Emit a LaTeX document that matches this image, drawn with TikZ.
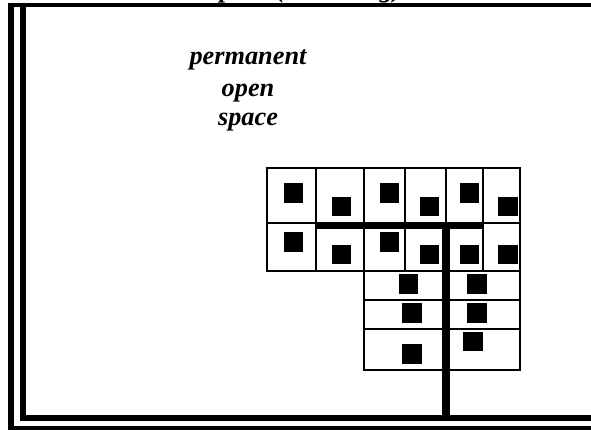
\documentclass[tikz,border=0pt]{standalone}
\usepackage{fontspec}
\setmainfont{Liberation Serif}
\begin{document}
\begin{tikzpicture}[x=1pt,y=-1pt,
  gridline/.style={line width=2pt,black},
  border/.style={line width=6pt,black},
  road/.style={black},
  lot/.style={fill=black},
  label/.style={font=\fontsize{26.3}{31}\selectfont\bfseries\itshape,inner sep=0pt}]
\useasboundingbox (0,0) rectangle (591,430);
\clip (0,0) rectangle (591,430);
% title (mostly outside the picture, as in the reference)
\node[label,anchor=base east] (title) at (402,-2) {space (clustering)};
% borders
\draw[line width=4pt] (8,5.5) -- (600,5.5);
\draw[border] (11,3.5) -- (11,435);
\draw[border] (23,7) -- (23,418) -- (600,418);
\draw[border] (8,429) -- (600,429);
% upper block of lots
\draw[gridline] (267.3,168) rectangle (520,270.7);
\foreach \x in {316,364.3,404.7,483.3} \draw[gridline] (\x,168) -- (\x,270.7);
\draw[gridline] (445.7,168) -- (445.7,223);
\draw[gridline] (267.3,222.7) -- (520,222.7);
% lower block of lots
\draw[gridline] (363.7,270.7) rectangle (520,370);
\draw[gridline] (363.7,299.5) -- (520,299.5);
\draw[gridline] (363.7,329) -- (520,329);
% roads
\draw[road,line width=6.5pt] (316,226) -- (482.7,226);
\draw[road,line width=8pt] (446,222.7) -- (446,418);
% houses
\foreach \x/\y in {284/183.3,331.7/196.7,380/183.3,420/196.7,460/183.3,498.3/196.7,
                   284/232.3,331.7/245,380/232.3,420/245,460/245,498.3/245,
                   399/274.3,467.3/274.3,402.3/303.3,467.3/303.3,402.3/344.3,463.3/331.7}
  \fill[lot] (\x,\y) rectangle ++(19.4,19.4);
% text
\node[label,anchor=base] (t1) at (248,64.3) {permanent};
\node[label,anchor=base] (t2) at (248,96.7) {open};
\node[label,anchor=base] (t3) at (248,125.5) {space};
\end{tikzpicture}
\end{document}
